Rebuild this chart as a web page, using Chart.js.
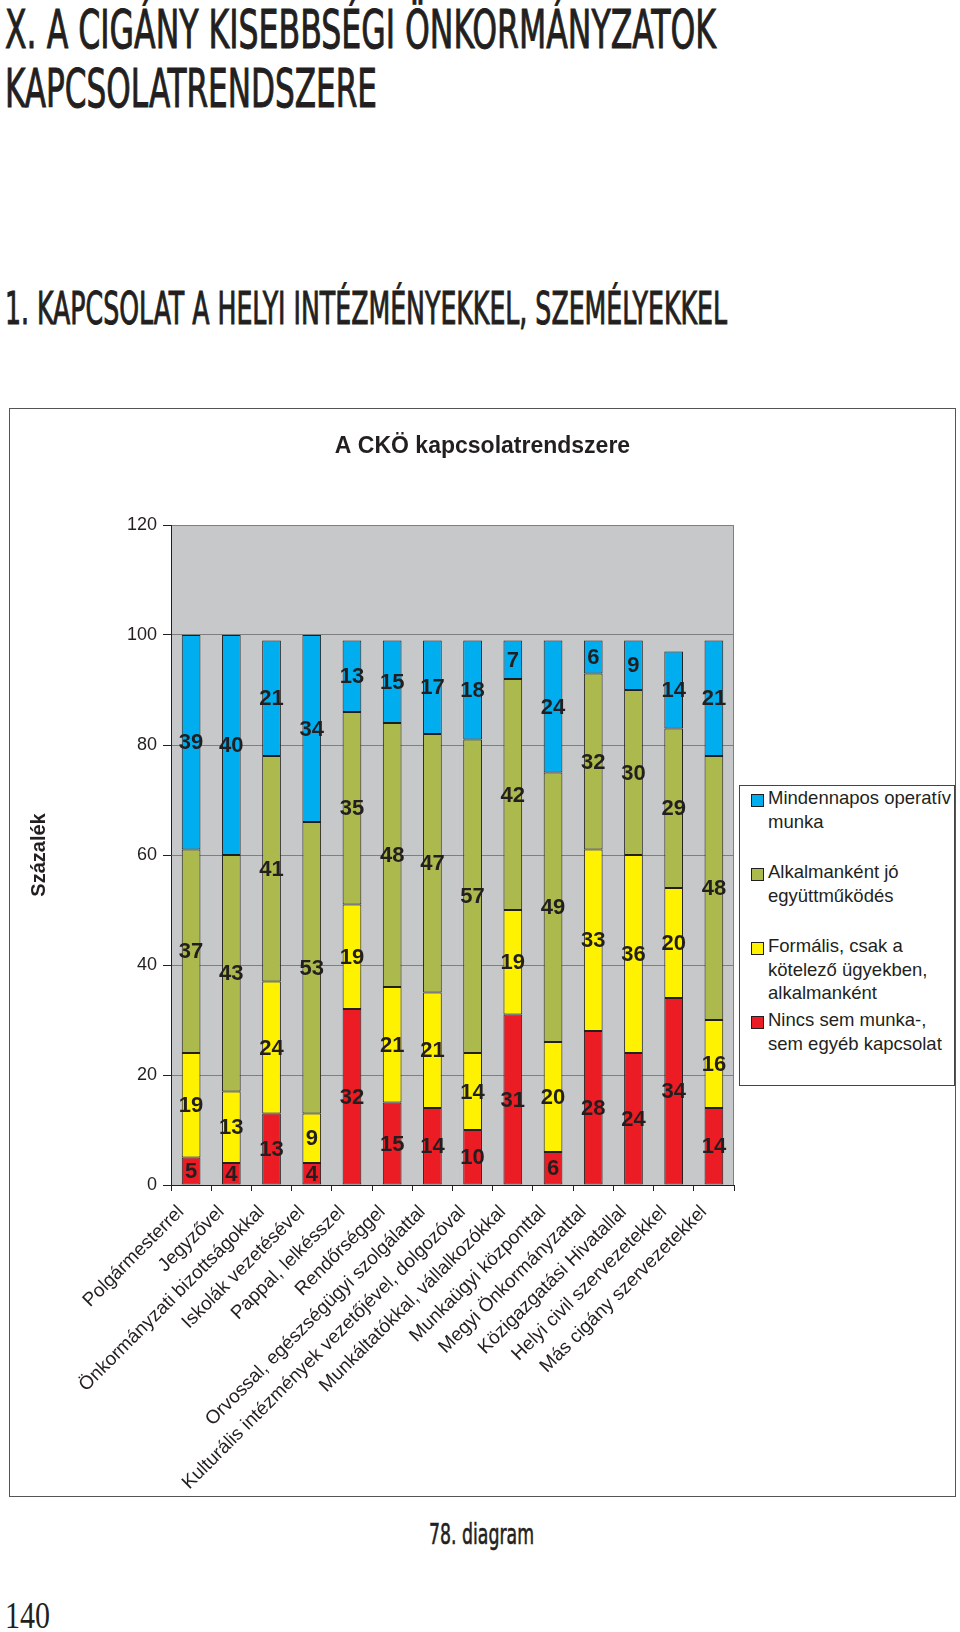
<!DOCTYPE html>
<html lang="hu">
<head>
<meta charset="utf-8">
<title>A CKÖ kapcsolatrendszere</title>
<script src="https://cdn.jsdelivr.net/npm/chart.js@4.4.1/dist/chart.umd.min.js"></script>
<style>
  html, body { margin: 0; padding: 0; background: #fff; }
  body { position: relative; width: 960px; height: 1632px; overflow: hidden; color: #231f20; }
  .cond { position: absolute; white-space: nowrap; line-height: 1; transform-origin: 0 0;
          font-family: "Liberation Sans Narrow", "DejaVu Sans Condensed", sans-serif;
          -webkit-text-stroke: 1px #231f20; }
  #h1a { left: 5px; top: 3px; font-size: 54px; }
  #h1b { left: 5px; top: 62px; font-size: 54px; }
  #h2  { left: 5px; top: 286px; font-size: 45px; }
  #caption { left: 429px; top: 1520px; font-size: 29px; -webkit-text-stroke: 0.6px #231f20; }
  #pageNo { position: absolute; left: 5px; top: 1596px; font-size: 38px; line-height: 1;
            font-family: "Liberation Serif", "DejaVu Serif", serif; transform-origin: 0 0; white-space: nowrap; }
  #frame { position: absolute; left: 9px; top: 408px; width: 945px; height: 1087px; border: 1px solid #555; }
  #chartBox { position: absolute; left: 10px; top: 409px; width: 945px; height: 1087px; }
  #legend { position: absolute; left: 739px; top: 785px; width: 214px; height: 299px;
            border: 1px solid #444; background: #fff;
            font-family: "Liberation Sans", Arial, sans-serif; font-size: 18.5px; line-height: 23.5px; color: #231f20; }
  .item { position: absolute; left: 0; width: 100%; }
  .item .box { position: absolute; left: 11px; top: 8px; width: 11px; height: 11px; border: 1px solid #231f20; }
  .item .txt { position: absolute; left: 28px; top: 0; white-space: nowrap; }
</style>
</head>
<body>
<div id="h1a" class="cond">X. A CIGÁNY KISEBBSÉGI ÖNKORMÁNYZATOK</div>
<div id="h1b" class="cond">KAPCSOLATRENDSZERE</div>
<div id="h2" class="cond">1. KAPCSOLAT A HELYI INTÉZMÉNYEKKEL, SZEMÉLYEKKEL</div>

<div id="frame"></div>
<div id="chartBox"><canvas id="kapcsolatChart"></canvas></div>
<div id="legend"></div>

<div id="caption" class="cond">78. diagram</div>
<div id="pageNo">140</div>

<script>
// Chart data
const categories = [
  'Polgármesterrel',
  'Jegyzővel',
  'Önkormányzati bizottságokkal',
  'Iskolák vezetésével',
  'Pappal, lelkésszel',
  'Rendőrséggel',
  'Orvossal, egészségügyi szolgálattal',
  'Kulturális intézmények vezetőjével, dolgozóval',
  'Munkáltatókkal, vállalkozókkal',
  'Munkaügyi központtal',
  'Megyi Önkormányzattal',
  'Közigazgatási Hivatallal',
  'Helyi civil szervezetekkel',
  'Más cigány szervezetekkel'
];

const nincsKapcsolat = [5, 4, 13, 4, 32, 15, 14, 10, 31, 6, 28, 24, 34, 14];
const formalis       = [19, 13, 24, 9, 19, 21, 21, 14, 19, 20, 33, 36, 20, 16];
const alkalmankentJo = [37, 43, 41, 53, 35, 48, 47, 57, 42, 49, 32, 30, 29, 48];
const mindennapos    = [39, 40, 21, 34, 13, 15, 17, 18, 7, 24, 6, 9, 14, 21];

const yTickValues = [0, 20, 40, 60, 80, 100, 120];

const chartTitle = 'A CKÖ kapcsolatrendszere';

// legend text, line by line as in the original
const seriesNames = {
  mindennapos: ['Mindennapos operatív', 'munka'],
  alkalmankentJo: ['Alkalmanként jó', 'együttműködés'],
  formalis: ['Formális, csak a', 'kötelező ügyekben,', 'alkalmanként'],
  nincsKapcsolat: ['Nincs sem munka-,', 'sem egyéb kapcsolat']
};

const colors = {
  mindennapos: '#00aeef',
  alkalmankentJo: '#acb94d',
  formalis: '#fff200',
  nincsKapcsolat: '#ec1c24'
};

const ink = '#231f20';
const fontFamily = '"Liberation Sans", Arial, Helvetica, sans-serif';

// squeeze the condensed headings to the width they have on the page
function fitWidth(id, width) {
  const el = document.getElementById(id);
  const w = el.getBoundingClientRect().width;
  el.style.transform = 'scaleX(' + (width / w) + ')';
}
fitWidth('h1a', 711);
fitWidth('h1b', 372);
fitWidth('h2', 722);
fitWidth('caption', 105);
fitWidth('pageNo', 45);

// HTML legend
const legendEl = document.getElementById('legend');
['mindennapos', 'alkalmankentJo', 'formalis', 'nincsKapcsolat'].forEach((key, i) => {
  const item = document.createElement('div');
  item.className = 'item';
  item.style.top = (i * 74) + 'px';
  item.innerHTML = '<div class="box" style="background:' + colors[key] + '"></div>' +
    '<div class="txt">' + seriesNames[key].join('<br>') + '</div>';
  legendEl.appendChild(item);
});

// gray plot area + right border
const plotBackground = {
  id: 'plotBackground',
  beforeDraw(chart) {
    const { ctx, chartArea: a } = chart;
    ctx.save();
    ctx.fillStyle = '#c7c8ca';
    ctx.fillRect(a.left, a.top, a.width, a.height);
    ctx.restore();
  },
  beforeDatasetsDraw(chart) {
    const { ctx, chartArea: a } = chart;
    ctx.save();
    ctx.strokeStyle = '#7f7f7f';
    ctx.lineWidth = 1;
    ctx.beginPath();
    ctx.moveTo(a.right - 0.5, a.top);
    ctx.lineTo(a.right - 0.5, a.bottom);
    ctx.stroke();
    ctx.restore();
  }
};

// chart title centred on the whole frame (the legend sits in the right padding)
const frameTitle = {
  id: 'frameTitle',
  afterDraw(chart) {
    const { ctx } = chart;
    ctx.save();
    ctx.font = 'bold 23px ' + fontFamily;
    ctx.fillStyle = ink;
    ctx.textAlign = 'center';
    ctx.textBaseline = 'middle';
    ctx.fillText(chartTitle, chart.width / 2, 38);
    ctx.restore();
  }
};

// value printed in the middle of every segment
const valueLabels = {
  id: 'valueLabels',
  afterDatasetsDraw(chart) {
    const { ctx } = chart;
    ctx.save();
    ctx.font = 'bold 22px ' + fontFamily;
    ctx.fillStyle = ink;
    ctx.textAlign = 'center';
    ctx.textBaseline = 'middle';
    chart.data.datasets.forEach((ds, i) => {
      chart.getDatasetMeta(i).data.forEach((bar, j) => {
        const p = bar.getProps(['x', 'y', 'base'], true);
        ctx.fillText(String(ds.data[j]), p.x, (p.y + p.base) / 2 + 1);
      });
    });
    ctx.restore();
  }
};

function makeSet(key, data) {
  return {
    label: seriesNames[key].join(' '),
    data: data,
    backgroundColor: colors[key],
    borderColor: ink,
    borderWidth: 1,
    borderSkipped: false,
    barPercentage: 0.465,
    categoryPercentage: 1
  };
}

const ctx = document.getElementById('kapcsolatChart').getContext('2d');
const kapcsolatChart = new Chart(ctx, {
  type: 'bar',
  data: {
    labels: categories,
    datasets: [
      makeSet('nincsKapcsolat', nincsKapcsolat),
      makeSet('formalis', formalis),
      makeSet('alkalmankentJo', alkalmankentJo),
      makeSet('mindennapos', mindennapos)
    ]
  },
  options: {
    responsive: true,
    maintainAspectRatio: false,
    animation: false,
    events: [],
    layout: { padding: { left: 0, right: 221, top: 116, bottom: 0 } },
    plugins: {
      legend: { display: false },
      tooltip: { enabled: false },
      title: { display: false }
    },
    scales: {
      x: {
        stacked: true,
        grid: { drawOnChartArea: false, offset: true, tickLength: 6, tickColor: ink },
        border: { color: ink, width: 1 },
        ticks: {
          autoSkip: false,
          minRotation: 45,
          maxRotation: 45,
          padding: 10,
          labelOffset: -10,
          color: ink,
          font: { family: fontFamily, size: 19 }
        },
        afterFit(scale) { scale.height = 311; }
      },
      y: {
        stacked: true,
        min: yTickValues[0],
        max: yTickValues[yTickValues.length - 1],
        ticks: {
          stepSize: yTickValues[1] - yTickValues[0],
          padding: 6,
          color: ink,
          font: { family: fontFamily, size: 18 }
        },
        grid: { color: '#7f7f7f', tickLength: 8, tickColor: ink },
        border: { color: ink, width: 1 },
        title: {
          display: true,
          text: 'Százalék',
          color: ink,
          font: { family: fontFamily, size: 20, weight: 'bold' },
          padding: { top: 17, bottom: 0 }
        },
        afterFit(scale) { scale.width = 161; }
      }
    }
  },
  plugins: [plotBackground, valueLabels, frameTitle]
});
</script>
</body>
</html>
